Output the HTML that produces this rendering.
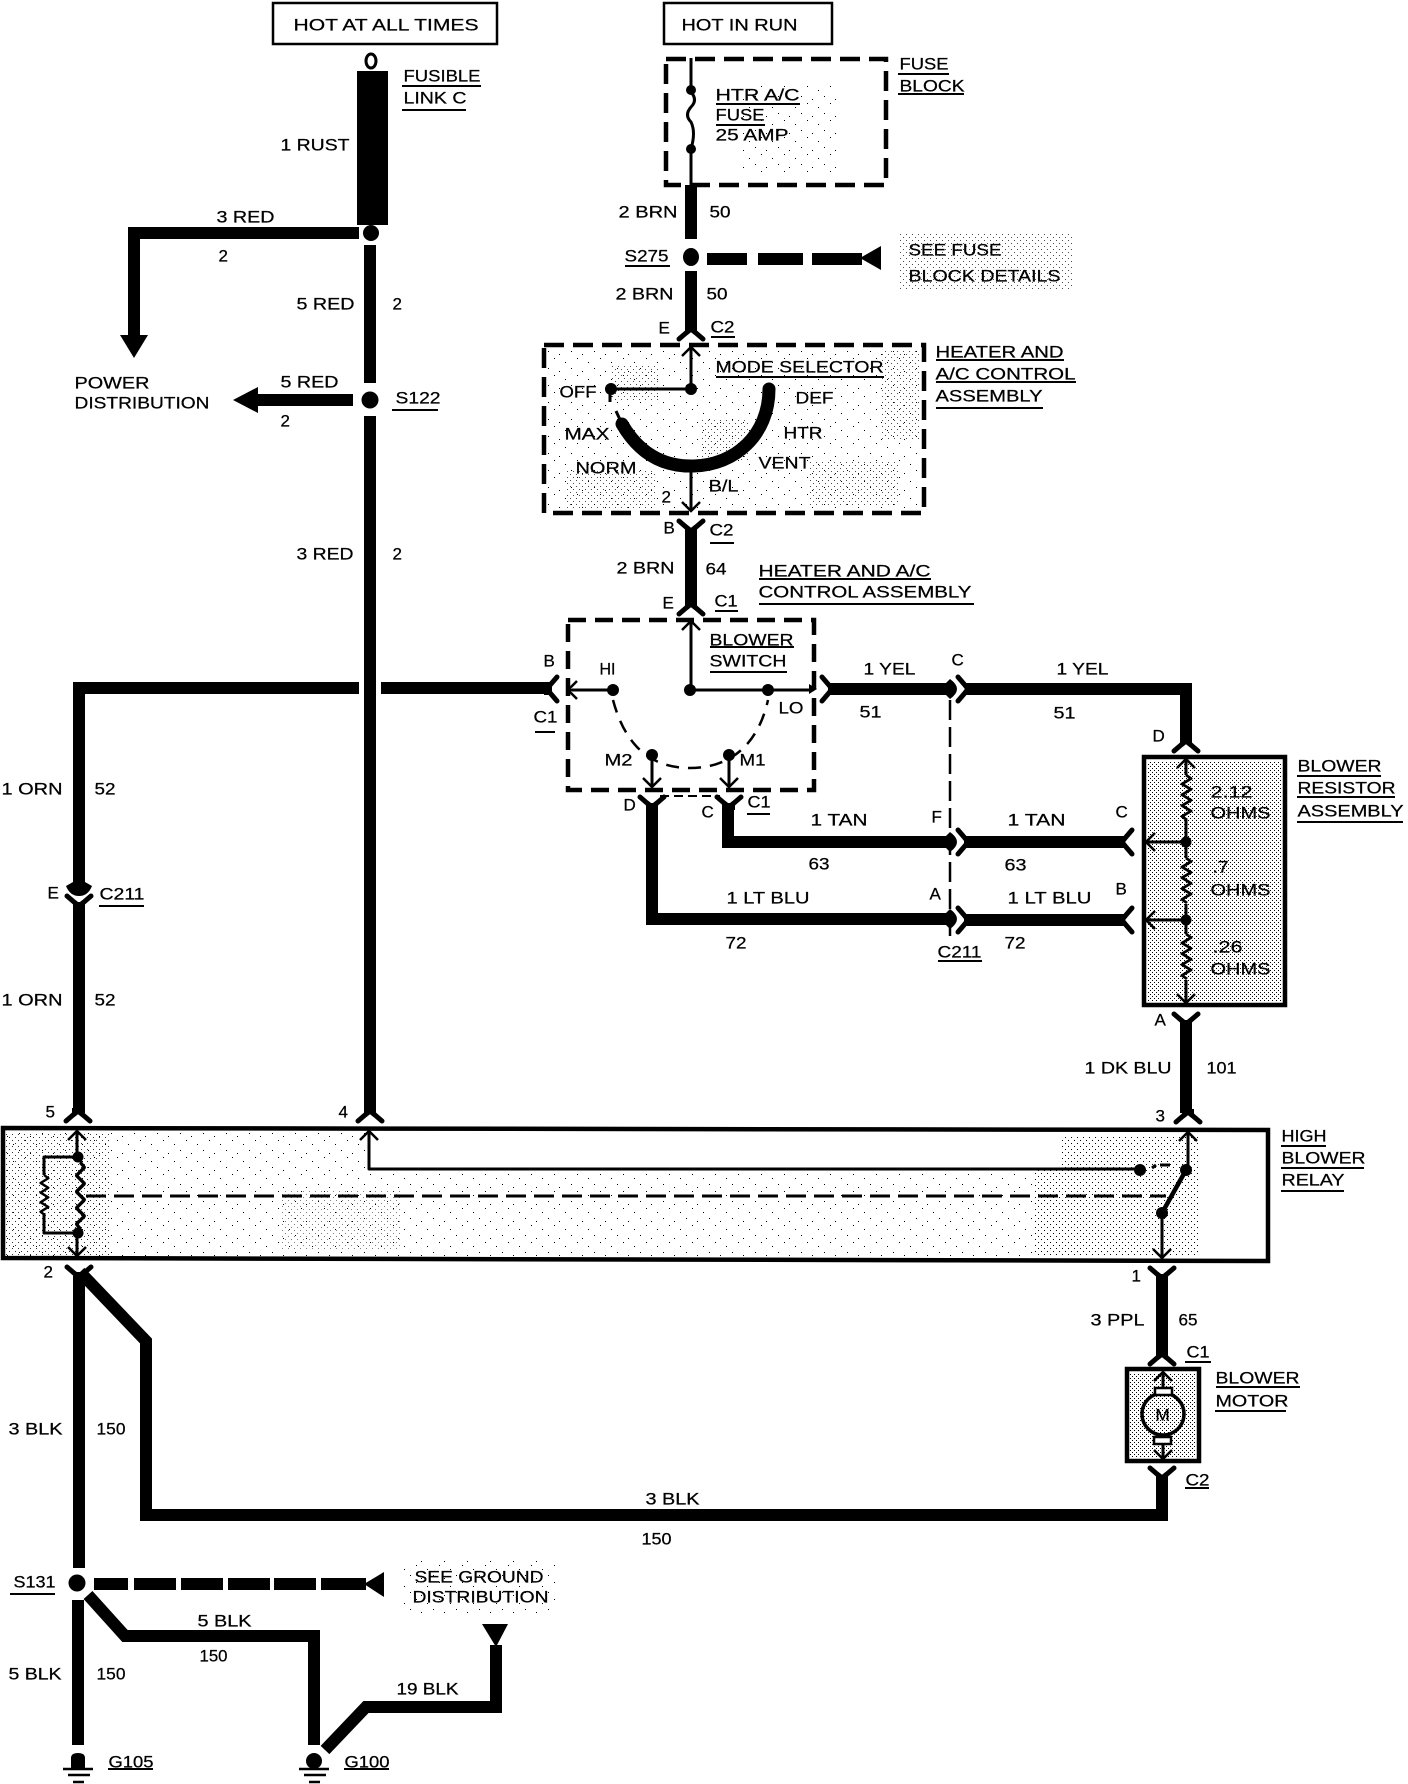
<!DOCTYPE html>
<html><head><meta charset="utf-8"><style>
html,body{margin:0;padding:0;background:#fff}
svg{display:block}
text{font-family:"Liberation Sans",sans-serif;font-size:17px;fill:#000;stroke:#000;stroke-width:.25}
.w{fill:none;stroke:#000;stroke-width:12;stroke-linejoin:miter}
.u{stroke:#000;stroke-width:2}
.n{fill:none;stroke:#000;stroke-width:3;stroke-linejoin:round}
.b{fill:none;stroke:#000;stroke-width:4.5}
</style></head><body>
<svg xmlns="http://www.w3.org/2000/svg" width="1408" height="1784" viewBox="0 0 1408 1784">
<defs>
<pattern id="dn" width="4" height="4" patternUnits="userSpaceOnUse"><rect width="1" height="1" fill="#000"/><rect x="2" y="2" width="1" height="1" fill="#000"/></pattern>
<pattern id="md" width="6" height="6" patternUnits="userSpaceOnUse"><rect width="1" height="1" fill="#000"/><rect x="3" y="3" width="1" height="1" fill="#000"/></pattern>
<pattern id="sp" width="23" height="17" patternUnits="userSpaceOnUse"><rect x="2" y="1" width="1" height="1" fill="#000"/><rect x="13" y="5" width="1" height="1" fill="#000"/><rect x="19" y="11" width="1" height="1" fill="#000"/><rect x="7" y="14" width="1" height="1" fill="#000"/></pattern>
<g id="fk"><path d="M-12,0 L-5,-6 L0,-10 L5,-6 L12,0" fill="none" stroke="#000" stroke-width="5" stroke-linejoin="round" stroke-linecap="round"/><path d="M-6,-6 L0,-10 L6,-6 L6,-13 L-6,-13Z" fill="#000"/></g>
<path id="ar" d="M-9,9 L0,0 L9,9 M0,0 L0,6" fill="none" stroke="#000" stroke-width="2.5"/>
<path id="zz" d="M0,0 l5,4 l-9,6 l9,6 l-9,6 l9,6 l-9,6 l9,6 l-9,6 l5,4" fill="none" stroke="#000" stroke-width="3" stroke-linejoin="round"/>
</defs>

<!-- stipple -->
<rect x="900" y="232" width="174" height="57" fill="url(#md)" opacity=".7"/>
<rect x="740" y="85" width="100" height="90" fill="url(#sp)"/>
<rect x="548" y="350" width="372" height="160" fill="url(#sp)"/>
<rect x="565" y="470" width="90" height="38" fill="url(#md)" opacity=".7"/>
<rect x="610" y="365" width="50" height="35" fill="url(#md)" opacity=".7"/>
<rect x="700" y="420" width="50" height="40" fill="url(#md)" opacity=".7"/>
<rect x="810" y="460" width="90" height="45" fill="url(#md)" opacity=".7"/>
<rect x="880" y="350" width="40" height="90" fill="url(#md)" opacity=".7"/>
<rect x="1148" y="761" width="133" height="240" fill="url(#dn)"/>
<rect x="6" y="1172" width="1030" height="84" fill="url(#sp)"/>
<rect x="6" y="1132" width="360" height="40" fill="url(#sp)"/>
<rect x="6" y="1132" width="105" height="125" fill="url(#md)" opacity=".8"/>
<rect x="280" y="1190" width="120" height="60" fill="url(#md)" opacity=".5"/>
<rect x="1035" y="1170" width="165" height="87" fill="url(#md)"/>
<rect x="1060" y="1135" width="140" height="35" fill="url(#md)"/>
<rect x="1130" y="1373" width="65" height="84" fill="url(#dn)"/>
<rect x="400" y="1560" width="155" height="55" fill="url(#sp)"/>

<!-- boxes -->
<rect x="273" y="3" width="224" height="41" fill="#fff" stroke="#000" stroke-width="2.5"/>
<rect x="664" y="3" width="168" height="41" fill="#fff" stroke="#000" stroke-width="2.5"/>
<rect x="666" y="59" width="220" height="126" fill="none" stroke="#000" stroke-width="4.5" stroke-dasharray="20 9"/>
<rect x="544" y="345" width="380" height="168" fill="none" stroke="#000" stroke-width="4.5" stroke-dasharray="20 9"/>
<rect x="568" y="620" width="246" height="170" fill="none" stroke="#000" stroke-width="4.5" stroke-dasharray="18 9"/>
<rect x="1144" y="757" width="141" height="248" class="b"/>
<path d="M3,1128 L1268,1130 L1268,1261 L3,1258Z" class="b"/>
<rect x="1127" y="1369" width="72" height="92" class="b"/>

<!-- fusible link & wire -->
<ellipse cx="371" cy="61" rx="5" ry="7" fill="#fff" stroke="#000" stroke-width="3"/>
<rect x="357" y="71" width="31" height="154" fill="#000"/>
<circle cx="371" cy="233" r="8" fill="#000"/>
<path class="w" d="M370 245V383M370 416V1113"/>
<circle cx="370" cy="400" r="8.5" fill="#000"/>
<path class="w" d="M359 233H134V338"/>
<path d="M120,335 H148 L134,358Z" fill="#000"/>
<path class="w" d="M353 400H255"/>
<path d="M258,387 V413 L233,400Z" fill="#000"/>

<!-- fuse block wire -->
<path class="n" d="M691 58V92 q7,8 0,15 q-7,8 0,15 q5,10 0,27 V185"/>
<circle cx="691" cy="90" r="5" fill="#000"/><circle cx="691" cy="149" r="5" fill="#000"/>
<path class="w" d="M691 185V239M691 271V330M691 530V606"/>
<ellipse cx="691" cy="257" rx="8" ry="9" fill="#000"/>
<path d="M707,253H747V265H707ZM758,253H803V265H758ZM812,253H862V265H812Z" fill="#000"/>
<path d="M881,246 V270 L860,258Z" fill="#000"/>

<!-- mode selector -->
<path class="n" d="M691 347V389M691 466V510"/>
<path class="n" d="M691 389H610V402"/>
<circle cx="691" cy="389" r="6" fill="#000"/><circle cx="611" cy="389" r="6" fill="#000"/>
<path d="M622 424 C640 455,665 467,694 466 C735 465,769 435,769 389" fill="none" stroke="#000" stroke-width="13" stroke-linecap="round"/>
<path class="n" d="M622 424L616 411"/>

<!-- blower switch -->
<path class="n" d="M691 621V690H812"/>
<path class="n" d="M613 690H572"/>
<circle cx="690" cy="690" r="6" fill="#000"/><circle cx="613" cy="690" r="6" fill="#000"/><circle cx="768" cy="690" r="6" fill="#000"/>
<path d="M613 700 C625 745,650 768,690 768 C730 768,758 745,768 700" fill="none" stroke="#000" stroke-width="2.5" stroke-dasharray="13 9"/>
<circle cx="652" cy="755" r="6" fill="#000"/><circle cx="729" cy="755" r="6" fill="#000"/>
<path class="n" d="M652 755V786M729 755V786"/>
<path d="M660 796H720" stroke="#000" stroke-width="2" stroke-dasharray="9 5"/>
<path d="M809,684 L817,689 L809,694Z" fill="#000"/>

<!-- main wires -->
<path class="w" d="M359 688H79V884M79 902V1113"/>
<path class="w" d="M381 688H552"/>
<path class="w" d="M828 689H949M966 689H1186V742"/>
<path d="M950,679 Q964,689 950,699 L946,695 V683Z" fill="#000"/>
<path class="w" d="M728 803V842H949M964 842H1125"/>
<path d="M950,832 Q964,842 950,852 L946,848 V836Z" fill="#000"/>
<path class="w" d="M652 803V919H949M964 920H1125"/>
<path d="M950,909 Q964,919 950,929 L946,925 V913Z" fill="#000"/>
<path d="M950 700V937" stroke="#000" stroke-width="2.5" stroke-dasharray="20 7" fill="none"/>
<path d="M66,886 L73,882 H85 L92,886 Q88,896 79,896 Q70,896 66,886Z" fill="#000"/>

<!-- resistor -->
<path class="n" d="M1186 759V775M1186 820V842V858M1186 904V920V934M1186 980V1003M1146 842H1186M1146 920H1186"/>
<use href="#zz" transform="translate(1186,775) scale(1,.9)"/>
<use href="#zz" transform="translate(1186,858) scale(1,.9)"/>
<use href="#zz" transform="translate(1186,934) scale(1,.9)"/>
<circle cx="1186" cy="842" r="5.5" fill="#000"/><circle cx="1186" cy="920" r="5.5" fill="#000"/>
<path class="w" d="M1186 1020V1113"/>

<!-- relay inside -->
<path class="n" d="M77 1131V1157M77 1233V1256M78 1157H44V1175M44 1213V1233H78"/>
<use href="#zz" transform="translate(44,1175) scale(.85,.8)"/>
<use href="#zz" transform="translate(80,1162) scale(.9,1.35)"/>
<circle cx="78" cy="1157" r="5.5" fill="#000"/><circle cx="78" cy="1233" r="5.5" fill="#000"/>
<path d="M86 1196H1166" stroke="#000" stroke-width="3" stroke-dasharray="20 8" fill="none"/>
<path class="n" d="M369 1131V1169H1140"/>
<circle cx="1140" cy="1170" r="6" fill="#000"/>
<path d="M1152 1168L1156 1165M1160 1165H1170" stroke="#000" stroke-width="3"/>
<path class="n" d="M1188 1131V1170"/>
<path d="M1186 1170L1162 1213" stroke="#000" stroke-width="4.5"/>
<path class="n" d="M1162 1213V1258"/>
<circle cx="1186" cy="1170" r="6" fill="#000"/><circle cx="1162" cy="1213" r="6" fill="#000"/>

<!-- motor -->
<path class="w" d="M1162 1274V1356"/>
<path class="n" d="M1163 1372V1389M1163 1443V1458"/>
<circle cx="1163" cy="1414" r="21" fill="none" stroke="#000" stroke-width="3.5"/>
<rect x="1155" y="1388" width="17" height="7" fill="#fff" stroke="#000" stroke-width="2.5"/>
<rect x="1154" y="1437" width="17" height="7" fill="#fff" stroke="#000" stroke-width="2.5"/>

<!-- ground wires -->
<path class="w" d="M79 1272V1568M78 1600V1745"/>
<path class="w" d="M80 1272L146 1341V1515H1162V1475"/>
<circle cx="77" cy="1583" r="8.5" fill="#000"/>
<path d="M94,1578H128V1590H94ZM134,1578H176V1590H134ZM181,1578H223V1590H181ZM228,1578H270V1590H228ZM274,1578H316V1590H274ZM321,1578H366V1590H321Z" fill="#000"/>
<path d="M384,1572 V1597 L364,1584Z" fill="#000"/>
<path class="w" d="M88 1595L125 1636H314V1745"/>
<path class="w" d="M325 1750L366 1707H496V1645"/>
<path d="M482,1624H508L496,1647Z" fill="#000"/>
<path d="M71,1769 V1758 q0,-5 7,-5 q7,0 7,5 V1769Z" fill="#000"/>
<path d="M63 1769H93M68 1775H90M73 1782H84" stroke="#000" stroke-width="2.5"/>
<circle cx="314" cy="1761" r="8" fill="#000"/>
<path d="M299 1769H329M304 1775H326M309 1782H320" stroke="#000" stroke-width="2.5"/>

<!-- forks -->
<use href="#fk" transform="translate(691,339)"/>
<use href="#fk" transform="translate(370,1121)"/>
<use href="#fk" transform="translate(78,1121)"/>
<use href="#fk" transform="translate(1188,1122)"/>
<use href="#fk" transform="translate(1186,751)"/>
<use href="#fk" transform="translate(691,614)"/>
<use href="#fk" transform="translate(1162,1364)"/>
<use href="#fk" transform="translate(691,521) rotate(180)"/>
<use href="#fk" transform="translate(1186,1014) rotate(180)"/>
<use href="#fk" transform="translate(1162,1268) rotate(180)"/>
<use href="#fk" transform="translate(652,797) rotate(180)"/>
<use href="#fk" transform="translate(729,797) rotate(180)"/>
<use href="#fk" transform="translate(1162,1468) rotate(180)"/>
<use href="#fk" transform="translate(79,1267) rotate(180)"/>
<use href="#fk" transform="translate(79,896) scale(1,-1)"/>
<use href="#fk" transform="translate(557,689) rotate(-90)"/>
<use href="#fk" transform="translate(822,689) rotate(90)"/>
<use href="#fk" transform="translate(958,689) rotate(90)"/>
<use href="#fk" transform="translate(958,842) rotate(90)"/>
<use href="#fk" transform="translate(958,920) rotate(90)"/>
<use href="#fk" transform="translate(1132,842) rotate(-90)"/>
<use href="#fk" transform="translate(1132,920) rotate(-90)"/>

<!-- arrows -->
<use href="#ar" transform="translate(691,347)"/>
<use href="#ar" transform="translate(691,511) rotate(180)"/>
<use href="#ar" transform="translate(691,621)"/>
<use href="#ar" transform="translate(568,690) rotate(-90)"/>
<use href="#ar" transform="translate(652,787) rotate(180)"/>
<use href="#ar" transform="translate(729,787) rotate(180)"/>
<use href="#ar" transform="translate(1186,759)"/>
<use href="#ar" transform="translate(1186,1003) rotate(180)"/>
<use href="#ar" transform="translate(1146,842) rotate(-90)"/>
<use href="#ar" transform="translate(1146,920) rotate(-90)"/>
<use href="#ar" transform="translate(77,1131)"/>
<use href="#ar" transform="translate(369,1131)"/>
<use href="#ar" transform="translate(1188,1132)"/>
<use href="#ar" transform="translate(77,1256) rotate(180)"/>
<use href="#ar" transform="translate(1162,1258) rotate(180)"/>
<use href="#ar" transform="translate(1163,1372)"/>
<use href="#ar" transform="translate(1163,1459) rotate(180)"/>

<!-- underlines -->
<path class="u" d="M402 86H481M402 110H466M898 74H949M898 94H964M716 104H800M716 125H765M625 266H670M711 337H735M936 360H1064M936 382H1076M936 408H1043M716 377H884M710 543H734M759 579H931M759 604H974M715 611H738M710 647H794M710 672H787M535 732H555M747 814H770M392 410H438M938 961H982M1297 776H1381M1297 797H1395M1297 822H1403M1281 1146H1326M1281 1168H1364M1281 1191H1344M1185 1362H1211M1216 1387H1300M1215 1411H1286M1185 1488H1209M99 906H144M10 1594H55M108 1769H153M344 1769H389"/>

<!-- text -->
<g transform="translate(.5,.5)">
<text x="293" y="30" textLength="185" lengthAdjust="spacingAndGlyphs">HOT AT ALL TIMES</text>
<text x="681" y="30" textLength="116" lengthAdjust="spacingAndGlyphs">HOT IN RUN</text>
<text x="403" y="81" textLength="77" lengthAdjust="spacingAndGlyphs">FUSIBLE</text>
<text x="403" y="103" textLength="63" lengthAdjust="spacingAndGlyphs">LINK C</text>
<text x="280" y="150" textLength="69" lengthAdjust="spacingAndGlyphs">1 RUST</text>
<text x="216" y="222" textLength="58" lengthAdjust="spacingAndGlyphs">3 RED</text>
<text x="218" y="261">2</text>
<text x="296" y="309" textLength="58" lengthAdjust="spacingAndGlyphs">5 RED</text>
<text x="392" y="309">2</text>
<text x="74" y="388" textLength="75" lengthAdjust="spacingAndGlyphs">POWER</text>
<text x="74" y="408" textLength="135" lengthAdjust="spacingAndGlyphs">DISTRIBUTION</text>
<text x="280" y="387" textLength="58" lengthAdjust="spacingAndGlyphs">5 RED</text>
<text x="280" y="426">2</text>
<text x="395" y="403" textLength="45" lengthAdjust="spacingAndGlyphs">S122</text>
<text x="296" y="559" textLength="57" lengthAdjust="spacingAndGlyphs">3 RED</text>
<text x="392" y="559">2</text>
<text x="899" y="69" textLength="49" lengthAdjust="spacingAndGlyphs">FUSE</text>
<text x="899" y="91" textLength="65" lengthAdjust="spacingAndGlyphs">BLOCK</text>
<text x="715" y="100" textLength="84" lengthAdjust="spacingAndGlyphs">HTR A/C</text>
<text x="715" y="120" textLength="49" lengthAdjust="spacingAndGlyphs">FUSE</text>
<text x="715" y="140" textLength="73" lengthAdjust="spacingAndGlyphs">25 AMP</text>
<text x="618" y="217" textLength="59" lengthAdjust="spacingAndGlyphs">2 BRN</text>
<text x="709" y="217" textLength="21" lengthAdjust="spacingAndGlyphs">50</text>
<text x="624" y="261" textLength="44" lengthAdjust="spacingAndGlyphs">S275</text>
<text x="908" y="255" textLength="93" lengthAdjust="spacingAndGlyphs">SEE FUSE</text>
<text x="908" y="281" textLength="152" lengthAdjust="spacingAndGlyphs">BLOCK DETAILS</text>
<text x="615" y="299" textLength="58" lengthAdjust="spacingAndGlyphs">2 BRN</text>
<text x="706" y="299" textLength="21" lengthAdjust="spacingAndGlyphs">50</text>
<text x="658" y="333">E</text>
<text x="710" y="332" textLength="24" lengthAdjust="spacingAndGlyphs">C2</text>
<text x="935" y="357" textLength="128" lengthAdjust="spacingAndGlyphs">HEATER AND</text>
<text x="935" y="379" textLength="140" lengthAdjust="spacingAndGlyphs">A/C CONTROL</text>
<text x="935" y="401" textLength="107" lengthAdjust="spacingAndGlyphs">ASSEMBLY</text>
<text x="715" y="372" textLength="168" lengthAdjust="spacingAndGlyphs">MODE SELECTOR</text>
<text x="559" y="397" textLength="37" lengthAdjust="spacingAndGlyphs">OFF</text>
<text x="795" y="403" textLength="38" lengthAdjust="spacingAndGlyphs">DEF</text>
<text x="564" y="439" textLength="45" lengthAdjust="spacingAndGlyphs">MAX</text>
<text x="783" y="438" textLength="39" lengthAdjust="spacingAndGlyphs">HTR</text>
<text x="575" y="473" textLength="61" lengthAdjust="spacingAndGlyphs">NORM</text>
<text x="758" y="468" textLength="52" lengthAdjust="spacingAndGlyphs">VENT</text>
<text x="661" y="502">2</text>
<text x="708" y="491" textLength="30" lengthAdjust="spacingAndGlyphs">B/L</text>
<text x="663" y="533">B</text>
<text x="709" y="535" textLength="24" lengthAdjust="spacingAndGlyphs">C2</text>
<text x="616" y="573" textLength="58" lengthAdjust="spacingAndGlyphs">2 BRN</text>
<text x="705" y="574" textLength="21" lengthAdjust="spacingAndGlyphs">64</text>
<text x="758" y="576" textLength="172" lengthAdjust="spacingAndGlyphs">HEATER AND A/C</text>
<text x="758" y="597" textLength="213" lengthAdjust="spacingAndGlyphs">CONTROL ASSEMBLY</text>
<text x="662" y="608">E</text>
<text x="714" y="606" textLength="23" lengthAdjust="spacingAndGlyphs">C1</text>
<text x="709" y="645" textLength="84" lengthAdjust="spacingAndGlyphs">BLOWER</text>
<text x="709" y="666" textLength="77" lengthAdjust="spacingAndGlyphs">SWITCH</text>
<text x="543" y="666">B</text>
<text x="599" y="674" textLength="16" lengthAdjust="spacingAndGlyphs">HI</text>
<text x="533" y="722" textLength="24" lengthAdjust="spacingAndGlyphs">C1</text>
<text x="778" y="713" textLength="25" lengthAdjust="spacingAndGlyphs">LO</text>
<text x="604" y="765" textLength="28" lengthAdjust="spacingAndGlyphs">M2</text>
<text x="739" y="765" textLength="26" lengthAdjust="spacingAndGlyphs">M1</text>
<text x="863" y="674" textLength="52" lengthAdjust="spacingAndGlyphs">1 YEL</text>
<text x="951" y="665">C</text>
<text x="1056" y="674" textLength="52" lengthAdjust="spacingAndGlyphs">1 YEL</text>
<text x="859" y="717" textLength="22" lengthAdjust="spacingAndGlyphs">51</text>
<text x="1053" y="718" textLength="22" lengthAdjust="spacingAndGlyphs">51</text>
<text x="1152" y="741">D</text>
<text x="1297" y="771" textLength="84" lengthAdjust="spacingAndGlyphs">BLOWER</text>
<text x="1297" y="793" textLength="98" lengthAdjust="spacingAndGlyphs">RESISTOR</text>
<text x="1297" y="816" textLength="106" lengthAdjust="spacingAndGlyphs">ASSEMBLY</text>
<text x="1210" y="797" textLength="42" lengthAdjust="spacingAndGlyphs">2.12</text>
<text x="1210" y="818" textLength="60" lengthAdjust="spacingAndGlyphs">OHMS</text>
<text x="1212" y="872" textLength="16" lengthAdjust="spacingAndGlyphs">.7</text>
<text x="1210" y="895" textLength="60" lengthAdjust="spacingAndGlyphs">OHMS</text>
<text x="1212" y="952" textLength="30" lengthAdjust="spacingAndGlyphs">.26</text>
<text x="1210" y="974" textLength="60" lengthAdjust="spacingAndGlyphs">OHMS</text>
<text x="623" y="810">D</text>
<text x="701" y="817">C</text>
<text x="747" y="807" textLength="23" lengthAdjust="spacingAndGlyphs">C1</text>
<text x="810" y="825" textLength="57" lengthAdjust="spacingAndGlyphs">1 TAN</text>
<text x="931" y="822">F</text>
<text x="1007" y="825" textLength="58" lengthAdjust="spacingAndGlyphs">1 TAN</text>
<text x="1115" y="817">C</text>
<text x="808" y="869" textLength="21" lengthAdjust="spacingAndGlyphs">63</text>
<text x="1004" y="870" textLength="22" lengthAdjust="spacingAndGlyphs">63</text>
<text x="726" y="903" textLength="83" lengthAdjust="spacingAndGlyphs">1 LT BLU</text>
<text x="929" y="899">A</text>
<text x="1007" y="903" textLength="84" lengthAdjust="spacingAndGlyphs">1 LT BLU</text>
<text x="1115" y="894">B</text>
<text x="725" y="948" textLength="21" lengthAdjust="spacingAndGlyphs">72</text>
<text x="1004" y="948" textLength="21" lengthAdjust="spacingAndGlyphs">72</text>
<text x="937" y="957" textLength="44" lengthAdjust="spacingAndGlyphs">C211</text>
<text x="1154" y="1025">A</text>
<text x="1084" y="1073" textLength="87" lengthAdjust="spacingAndGlyphs">1 DK BLU</text>
<text x="1206" y="1073" textLength="30" lengthAdjust="spacingAndGlyphs">101</text>
<text x="1155" y="1121">3</text>
<text x="1281" y="1141" textLength="45" lengthAdjust="spacingAndGlyphs">HIGH</text>
<text x="1281" y="1163" textLength="84" lengthAdjust="spacingAndGlyphs">BLOWER</text>
<text x="1281" y="1185" textLength="63" lengthAdjust="spacingAndGlyphs">RELAY</text>
<text x="1131" y="1281">1</text>
<text x="1090" y="1325" textLength="54" lengthAdjust="spacingAndGlyphs">3 PPL</text>
<text x="1178" y="1325" textLength="19" lengthAdjust="spacingAndGlyphs">65</text>
<text x="1186" y="1357" textLength="23" lengthAdjust="spacingAndGlyphs">C1</text>
<text x="1215" y="1383" textLength="84" lengthAdjust="spacingAndGlyphs">BLOWER</text>
<text x="1215" y="1406" textLength="73" lengthAdjust="spacingAndGlyphs">MOTOR</text>
<text x="1185" y="1485" textLength="24" lengthAdjust="spacingAndGlyphs">C2</text>
<text x="1155" y="1420">M</text>
<text x="45" y="1117">5</text>
<text x="338" y="1117">4</text>
<text x="43" y="1277">2</text>
<text x="1" y="794" textLength="61" lengthAdjust="spacingAndGlyphs">1 ORN</text>
<text x="94" y="794" textLength="21" lengthAdjust="spacingAndGlyphs">52</text>
<text x="47" y="898">E</text>
<text x="99" y="899" textLength="45" lengthAdjust="spacingAndGlyphs">C211</text>
<text x="1" y="1005" textLength="61" lengthAdjust="spacingAndGlyphs">1 ORN</text>
<text x="94" y="1005" textLength="21" lengthAdjust="spacingAndGlyphs">52</text>
<text x="8" y="1434" textLength="54" lengthAdjust="spacingAndGlyphs">3 BLK</text>
<text x="96" y="1434" textLength="29" lengthAdjust="spacingAndGlyphs">150</text>
<text x="645" y="1504" textLength="54" lengthAdjust="spacingAndGlyphs">3 BLK</text>
<text x="641" y="1544" textLength="30" lengthAdjust="spacingAndGlyphs">150</text>
<text x="13" y="1587" textLength="42" lengthAdjust="spacingAndGlyphs">S131</text>
<text x="197" y="1626" textLength="54" lengthAdjust="spacingAndGlyphs">5 BLK</text>
<text x="199" y="1661" textLength="28" lengthAdjust="spacingAndGlyphs">150</text>
<text x="8" y="1679" textLength="53" lengthAdjust="spacingAndGlyphs">5 BLK</text>
<text x="96" y="1679" textLength="29" lengthAdjust="spacingAndGlyphs">150</text>
<text x="396" y="1694" textLength="62" lengthAdjust="spacingAndGlyphs">19 BLK</text>
<text x="414" y="1582" textLength="129" lengthAdjust="spacingAndGlyphs">SEE GROUND</text>
<text x="412" y="1602" textLength="136" lengthAdjust="spacingAndGlyphs">DISTRIBUTION</text>
<text x="108" y="1767" textLength="45" lengthAdjust="spacingAndGlyphs">G105</text>
<text x="344" y="1767" textLength="45" lengthAdjust="spacingAndGlyphs">G100</text>
</g>
</svg>
</body></html>
